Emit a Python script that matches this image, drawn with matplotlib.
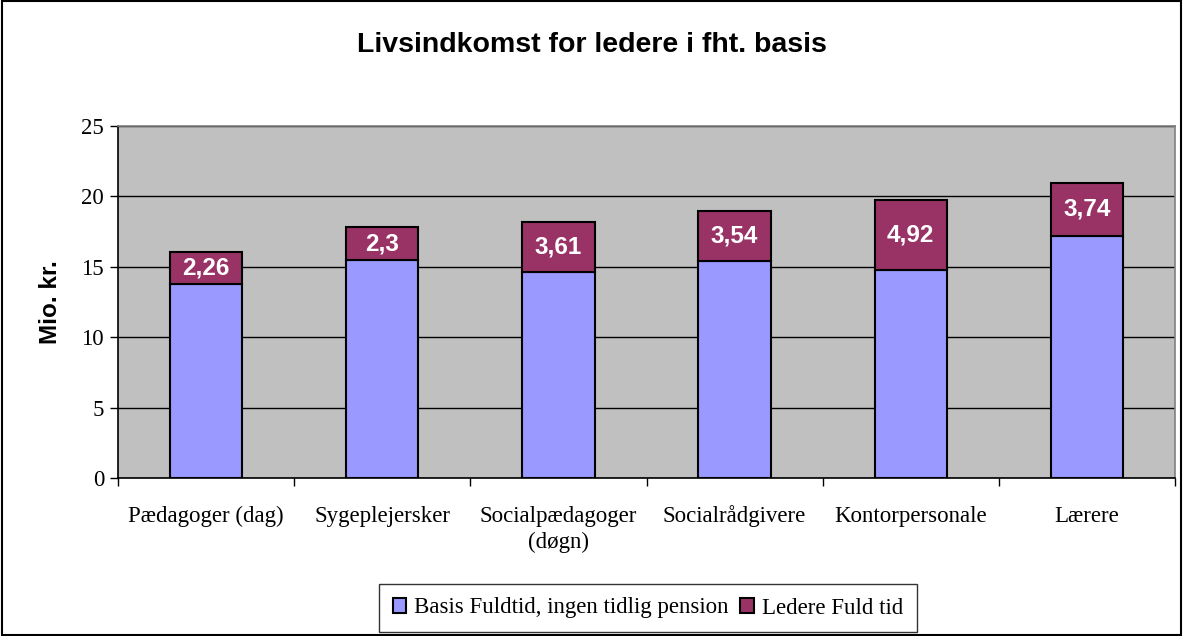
import numpy as np
import matplotlib
matplotlib.use("Agg")
from matplotlib import pyplot as plt
from matplotlib.patches import Rectangle

## data
kategorier = ["Pædagoger (dag)", "Sygeplejersker", "Socialpædagoger\n(døgn)",
              "Socialrådgivere", "Kontorpersonale", "Lærere"]
basis = [13.8, 15.5, 14.6, 15.4, 14.8, 17.2]
ledere = [2.26, 2.3, 3.61, 3.54, 4.92, 3.74]
ledere_labels = ["2,26", "2,3", "3,61", "3,54", "4,92", "3,74"]

serif = ["Liberation Serif", "DejaVu Serif"]
sans = ["Liberation Sans", "DejaVu Sans"]

fig = plt.figure(figsize=(11.83, 6.36), dpi=100)
ax = fig.add_axes([118 / 1183, 158 / 636, 1057 / 1183, 352 / 636])
ax.set_facecolor("#C0C0C0")

x = np.arange(len(kategorier))
w = 0.41
ax.bar(x, basis, w, color="#9999FF", edgecolor="black", linewidth=1.5,
       label="Basis Fuldtid, ingen tidlig pension", zorder=3)
ax.bar(x, ledere, w, bottom=basis, color="#993366", edgecolor="black",
       linewidth=1.5, label="Ledere Fuld tid", zorder=3)

## data labels
for i in range(len(x)):
    ax.text(x[i], basis[i] + ledere[i] / 2, ledere_labels[i], ha="center",
            va="center", color="white", fontweight="bold", fontsize=17.5,
            family=sans, zorder=4)

ax.set_xlim(-0.5, len(x) - 0.5)
ax.set_ylim(0, 25)
ax.set_yticks([0, 5, 10, 15, 20, 25])
ax.yaxis.grid(True, color="black", linewidth=1, zorder=1)
ax.set_axisbelow(True)

## x ticks between categories, category names as baseline-aligned text
ax.set_xticks([])
ax.set_xticks(np.arange(-0.5, len(x)), minor=True)
ax.tick_params(axis="x", which="minor", length=6, width=1, direction="out")
for i, name in enumerate(kategorier):
    for j, line in enumerate(name.split("\n")):
        ax.annotate(line, xy=(x[i], 0), xycoords=ax.get_xaxis_transform(),
                    xytext=(0, -44 - 26 * j), textcoords="offset pixels",
                    ha="center", va="baseline", family=serif, fontsize=16.5,
                    annotation_clip=False)

ax.tick_params(axis="y", length=6, width=1, direction="out", pad=4)
for lbl in ax.get_yticklabels():
    lbl.set_family(serif)
    lbl.set_fontsize(16.5)

ax.spines["left"].set_color("black")
ax.spines["bottom"].set_color("black")
ax.spines["top"].set_color("#808080")
ax.spines["right"].set_color("#808080")
for s in ax.spines.values():
    s.set_linewidth(1.2)

ax.set_ylabel("Mio. kr.", family=sans, fontweight="bold", fontsize=17.5, labelpad=14)

fig.text(0.5, 1 - 45 / 636, "Livsindkomst for ledere i fht. basis", ha="center",
         va="center", family=sans, fontweight="bold", fontsize=20.5)

leg = fig.legend(loc="center", bbox_to_anchor=(648 / 1183, 28 / 636), ncol=2,
                 frameon=True, fancybox=False, edgecolor="black",
                 prop={"family": serif, "size": 16.5}, handlelength=0.6,
                 handleheight=0.6, handletextpad=0.35, columnspacing=0.5,
                 borderpad=0.6, borderaxespad=0)
leg.get_frame().set_linewidth(1)

## outer border
fig.patches.append(Rectangle((0.0015, 0.0015), 0.997, 0.997, transform=fig.transFigure,
                             fill=False, edgecolor="black", linewidth=1.5))

fig.savefig("out.png", dpi=100)
